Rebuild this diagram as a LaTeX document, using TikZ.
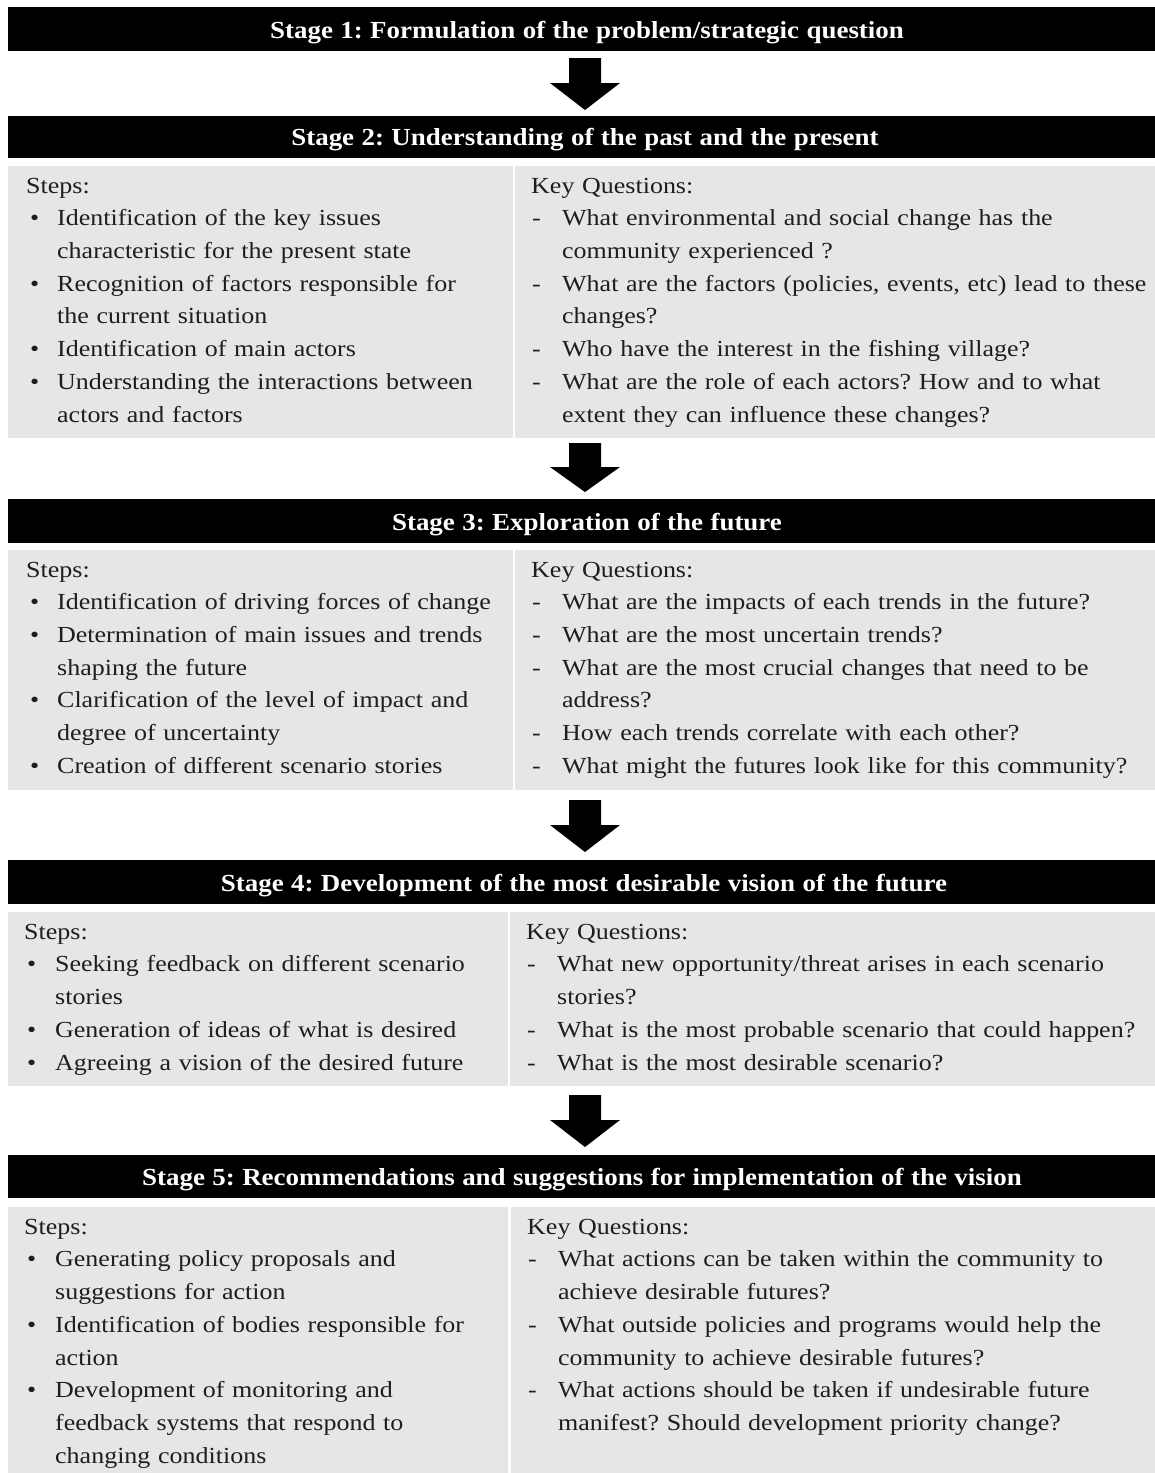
\documentclass[tikz,border=0pt]{standalone}
\usepackage{fontspec}
\setmainfont{Liberation Serif}[FakeStretch=1.13,WordSpace=1.6]
\newfontfamily\hdrfont{Liberation Serif}[FakeStretch=1.1,WordSpace=1.1]
\frenchspacing
\definecolor{panelgray}{HTML}{E6E6E6}
\definecolor{txtgray}{HTML}{1E1E1E}
\newcommand\bul[1]{\par\hangindent=31pt\hangafter=1\noindent\hspace*{4pt}\makebox[27pt][l]{\textbullet}#1\par}
\newcommand\dsh[1]{\par\hangindent=31pt\hangafter=1\noindent\hspace*{1pt}\makebox[30pt][l]{-}#1\par}
\newcommand\bulb[1]{\par\hangindent=31pt\hangafter=1\noindent\hspace*{3pt}\makebox[28pt][l]{\textbullet}#1\par}
\newcommand\blockarrow[3]{\fill[black] (569,#1) -- (601,#1) -- (601,#2) -- (620,#2) -- (585,#3) -- (550,#2) -- (569,#2) -- cycle;}
\begin{document}
\begin{tikzpicture}[x=1pt,y=-1pt,
  bar/.style={fill=black,draw=none,inner sep=0,minimum width=1147pt,anchor=north west},
  hdr/.style={text=white,font=\hdrfont\fontsize{24.5}{28}\selectfont\bfseries\frenchspacing,anchor=base,inner sep=0},
  panel/.style={fill=panelgray,draw=none,inner sep=0,anchor=north west},
  txt/.style={text=txtgray,font=\fontsize{23}{32.7}\selectfont\frenchspacing,anchor=north west,inner sep=0,text width=700pt,align=left}]
\useasboundingbox (0,0) rectangle (1155,1473);
\fill[white] (0,0) rectangle (1155,1473);

% Stage 1
\node[bar,minimum height=44pt] (b1) at (8,7) {};
\node[hdr] (h1) at (587,38) {Stage 1: Formulation of the problem/strategic question};
\blockarrow{58}{83}{110}

% Stage 2
\node[bar,minimum height=42pt] (b2) at (8,116) {};
\node[hdr] (h2) at (585,145) {Stage 2: Understanding of the past and the present};
\node[panel,minimum width=505pt,minimum height=272pt] (p2l) at (8,166) {};
\node[panel,minimum width=640pt,minimum height=272pt] (p2r) at (515,166) {};
\node[txt] (t2l) at (26,170.1) {\strut Steps:
\bul{Identification of the key issues\newline characteristic for the present state}
\bul{Recognition of factors responsible for\newline the current situation}
\bul{Identification of main actors}
\bul{Understanding the interactions between\newline actors and factors}};
\node[txt] (t2r) at (531,170.1) {\strut Key Questions:
\dsh{What environmental and social change has the\newline community experienced ?}
\dsh{What are the factors (policies, events, etc) lead to these\newline changes?}
\dsh{Who have the interest in the fishing village?}
\dsh{What are the role of each actors? How and to what\newline extent they can influence these changes?}};
\blockarrow{443}{467}{492}

% Stage 3
\node[bar,minimum height=44pt] (b3) at (8,499) {};
\node[hdr] (h3) at (587,530) {Stage 3: Exploration of the future};
\node[panel,minimum width=505pt,minimum height=240pt] (p3l) at (8,550) {};
\node[panel,minimum width=640pt,minimum height=240pt] (p3r) at (515,550) {};
\node[txt] (t3l) at (26,554.1) {\strut Steps:
\bul{Identification of driving forces of change}
\bul{Determination of main issues and trends\newline shaping the future}
\bul{Clarification of the level of impact and\newline degree of uncertainty}
\bul{Creation of different scenario stories}};
\node[txt] (t3r) at (531,554.1) {\strut Key Questions:
\dsh{What are the impacts of each trends in the future?}
\dsh{What are the most uncertain trends?}
\dsh{What are the most crucial changes that need to be\newline address?}
\dsh{How each trends correlate with each other?}
\dsh{What might the futures look like for this community?}};
\blockarrow{800}{825}{852}

% Stage 4
\node[bar,minimum height=44pt] (b4) at (8,860) {};
\node[hdr] (h4) at (584,891) {Stage 4: Development of the most desirable vision of the future};
\node[panel,minimum width=500pt,minimum height=174pt] (p4l) at (8,912) {};
\node[panel,minimum width=645pt,minimum height=174pt] (p4r) at (510,912) {};
\node[txt] (t4l) at (24,916.1) {\strut Steps:
\bulb{Seeking feedback on different scenario\newline stories}
\bulb{Generation of ideas of what is desired}
\bulb{Agreeing a vision of the desired future}};
\node[txt] (t4r) at (526,916.1) {\strut Key Questions:
\dsh{What new opportunity/threat arises in each scenario\newline stories?}
\dsh{What is the most probable scenario that could happen?}
\dsh{What is the most desirable scenario?}};
\blockarrow{1095}{1120}{1147}

% Stage 5
\node[bar,minimum height=43pt] (b5) at (8,1155) {};
\node[hdr] (h5) at (582,1185) {Stage 5: Recommendations and suggestions for implementation of the vision};
\node[panel,minimum width=500pt,minimum height=266pt] (p5l) at (8,1207) {};
\node[panel,minimum width=644pt,minimum height=266pt] (p5r) at (511,1207) {};
\node[txt] (t5l) at (24,1211.1) {\strut Steps:
\bulb{Generating policy proposals and\newline suggestions for action}
\bulb{Identification of bodies responsible for\newline action}
\bulb{Development of monitoring and\newline feedback systems that respond to\newline changing conditions}};
\node[txt] (t5r) at (527,1211.1) {\strut Key Questions:
\dsh{What actions can be taken within the community to\newline achieve desirable futures?}
\dsh{What outside policies and programs would help the\newline community to achieve desirable futures?}
\dsh{What actions should be taken if undesirable future\newline manifest? Should development priority change?}};
\end{tikzpicture}
\end{document}
